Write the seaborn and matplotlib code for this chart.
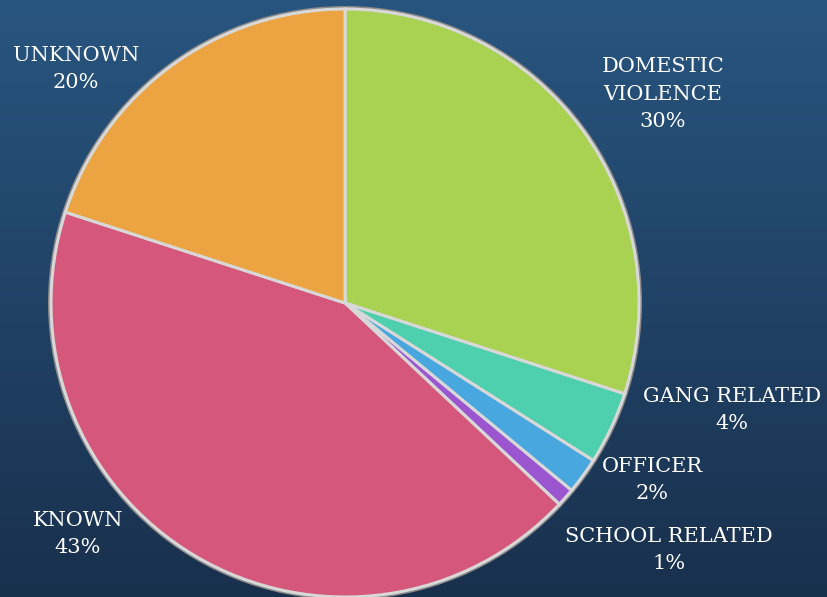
import numpy as np
import matplotlib
matplotlib.use("Agg")
import matplotlib.pyplot as plt
from matplotlib.colors import LinearSegmentedColormap
import seaborn as sns

sns.set_theme(style="white")
plt.rcParams['font.family'] = ['DejaVu Serif']

# data
categories = ["DOMESTIC\nVIOLENCE", "GANG RELATED", "OFFICER", "SCHOOL RELATED", "KNOWN", "UNKNOWN"]
shares = [30, 4, 2, 1, 43, 20]
colors = ["#a9d152", "#4ecfae", "#49a7df", "#9a55cf", "#d5577b", "#eba441"]

# label layout (pixel positions, y from top)
label_pos = [(663, 94), (732, 410), (652, 480), (669, 550), (78, 534), (76, 69)]

W, H = 827, 597
fig = plt.figure(figsize=(W / 100, H / 100), dpi=100)
ax = fig.add_axes([0, 0, 1, 1])

# background gradient
bg = LinearSegmentedColormap.from_list("bg", ["#19304d", "#28557f"])
grad = np.linspace(0, 1, 256).reshape(-1, 1)
ax.imshow(grad, extent=[0, W, 0, H], cmap=bg, aspect="auto", origin="lower", zorder=0)

cx, cy, r = 345, H - 303, 294

# outer rim
ax.pie([1], radius=r + 3, center=(cx, cy), colors=["#8a8a8a"],
       wedgeprops=dict(linewidth=0), frame=True)
wedges, _ = ax.pie(shares, radius=r, center=(cx, cy), colors=colors,
                   startangle=90, counterclock=False,
                   wedgeprops=dict(edgecolor="#d8d8d8", linewidth=2.2), frame=True)

ax.set_xlim(0, W)
ax.set_ylim(0, H)
ax.set_aspect("equal")
ax.axis("off")

for cat, s, (x, y) in zip(categories, shares, label_pos):
    ax.text(x, H - y, f"{cat}\n{s}%", ha="center", va="center", color="white",
            fontsize=15, linespacing=1.55, zorder=5)

fig.savefig("out.png", dpi=100)
